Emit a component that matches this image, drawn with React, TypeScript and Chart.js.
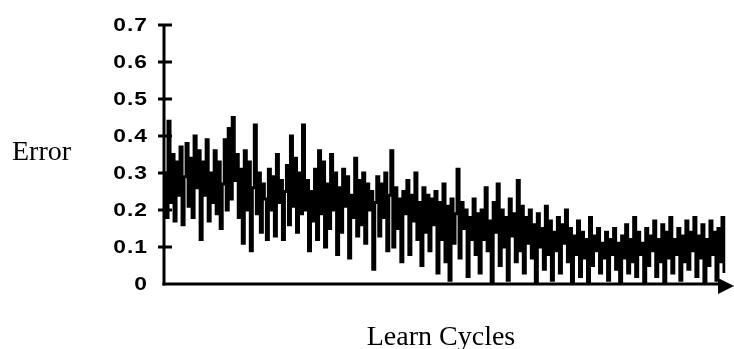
import React, { useEffect, useRef } from "react";
import { Chart, registerables } from "chart.js";

Chart.register(...registerables);

const yTicks: number[] = [0, 0.1, 0.2, 0.3, 0.4, 0.5, 0.6, 0.7];
const yTickLabels: string[] = ["0", "0.1", "0.2", "0.3", "0.4", "0.5", "0.6", "0.7"];
const yTitle = "Error";
const xTitle = "Learn Cycles";

const errorValues: number[] = [
  0.3, 0.18, 0.44, 0.22, 0.35, 0.17, 0.33, 0.24, 0.37, 0.16, 0.29, 0.38, 0.21, 0.34, 0.18, 0.4, 0.26, 0.36, 0.12, 0.33,
  0.24, 0.39, 0.17, 0.3, 0.22, 0.36, 0.19, 0.33, 0.15, 0.27, 0.39, 0.2, 0.42, 0.23, 0.45, 0.28, 0.35, 0.18, 0.31, 0.11,
  0.36, 0.2, 0.33, 0.09, 0.26, 0.43, 0.19, 0.3, 0.14, 0.27, 0.23, 0.12, 0.31, 0.2, 0.29, 0.13, 0.35, 0.22, 0.28, 0.12,
  0.25, 0.32, 0.16, 0.4, 0.21, 0.34, 0.14, 0.3, 0.19, 0.43, 0.2, 0.28, 0.09, 0.25, 0.17, 0.31, 0.12, 0.36, 0.19, 0.33,
  0.1, 0.27, 0.15, 0.35, 0.2, 0.3, 0.08, 0.26, 0.14, 0.31, 0.21, 0.29, 0.07, 0.24, 0.18, 0.34, 0.13, 0.28, 0.16, 0.3,
  0.11, 0.27, 0.2, 0.25, 0.04, 0.22, 0.29, 0.13, 0.27, 0.18, 0.3, 0.09, 0.24, 0.36, 0.1, 0.26, 0.15, 0.23, 0.06, 0.25,
  0.19, 0.28, 0.08, 0.24, 0.17, 0.3, 0.12, 0.22, 0.05, 0.26, 0.14, 0.24, 0.09, 0.23, 0.16, 0.25, 0.03, 0.22, 0.12, 0.27,
  0.06, 0.21, 0.01, 0.23, 0.11, 0.19, 0.31, 0.07, 0.22, 0.15, 0.2, 0.02, 0.18, 0.12, 0.23, 0.08, 0.19, 0.03, 0.2, 0.12,
  0.26, 0.09, 0.17, 0.0, 0.22, 0.14, 0.27, 0.05, 0.2, 0.1, 0.18, 0.01, 0.23, 0.13, 0.19, 0.06, 0.28, 0.09, 0.21, 0.03,
  0.18, 0.11, 0.2, 0.07, 0.16, 0.0, 0.19, 0.1, 0.15, 0.04, 0.21, 0.08, 0.17, 0.01, 0.14, 0.09, 0.18, 0.03, 0.16, 0.11,
  0.2, 0.06, 0.15, 0.0, 0.13, 0.08, 0.17, 0.02, 0.14, 0.07, 0.12, 0.0, 0.18, 0.05, 0.13, 0.09, 0.15, 0.03, 0.11, 0.07,
  0.14, 0.01, 0.12, 0.08, 0.15, 0.04, 0.11, 0.0, 0.13, 0.07, 0.16, 0.03, 0.12, 0.06, 0.18, 0.02, 0.14, 0.08, 0.11, 0.0,
  0.15, 0.05, 0.13, 0.09, 0.17, 0.02, 0.12, 0.06, 0.16, 0.0, 0.14, 0.07, 0.18, 0.03, 0.12, 0.08, 0.15, 0.01, 0.13, 0.06,
  0.17, 0.04, 0.14, 0.09, 0.18, 0.02, 0.13, 0.07, 0.16, 0.0, 0.12, 0.05, 0.17, 0.08, 0.14, 0.01, 0.15, 0.06, 0.18, 0.03,
];

const cycles: number[] = errorValues.map((_, i) => i + 1);

function drawSpaced(ctx: CanvasRenderingContext2D, text: string, right: number, y: number, gap: number, sx: number) {
  const chars = text.split("");
  const widths = chars.map((c) => ctx.measureText(c).width * sx);
  const total = widths.reduce((a, b) => a + b, 0) + gap * (chars.length - 1);
  let x = right - total;
  chars.forEach((c, i) => {
    ctx.save();
    ctx.translate(x, y);
    ctx.scale(sx, 1);
    ctx.fillText(c, 0, 0);
    ctx.restore();
    x += widths[i] + gap;
  });
}

const axesPlugin = {
  id: "customAxes",
  afterDraw(chart: any) {
    const ctx: CanvasRenderingContext2D = chart.ctx;
    const y = chart.scales.y;
    const area = chart.chartArea;
    const x0 = area.left;
    const yBottom = y.getPixelForValue(0);
    const yTop = y.getPixelForValue(0.7);
    ctx.save();
    ctx.strokeStyle = "#000";
    ctx.fillStyle = "#000";
    ctx.lineWidth = 3;
    ctx.beginPath();
    ctx.moveTo(x0, yBottom + 1.5);
    ctx.lineTo(x0, yTop);
    ctx.stroke();
    ctx.beginPath();
    ctx.moveTo(x0 - 1.5, yBottom);
    ctx.lineTo(719, yBottom);
    ctx.stroke();
    ctx.beginPath();
    ctx.moveTo(718, yBottom - 6);
    ctx.lineTo(734, yBottom + 2);
    ctx.lineTo(718, yBottom + 10);
    ctx.closePath();
    ctx.fill();
    ctx.font = "bold 19px 'Liberation Sans'";
    ctx.textAlign = "left";
    ctx.textBaseline = "middle";
    yTicks.forEach((v, i) => {
      const py = y.getPixelForValue(v);
      if (v > 0) {
        ctx.beginPath();
        ctx.moveTo(x0 - 6, py);
        ctx.lineTo(x0 + 8, py);
        ctx.stroke();
      }
      drawSpaced(ctx, yTickLabels[i], 147, py + 1, 1, 1.2);
    });
    ctx.font = "28px 'Liberation Serif'";
    ctx.textAlign = "left";
    ctx.textBaseline = "alphabetic";
    ctx.fillText(yTitle, 12, 160);
    ctx.textAlign = "center";
    ctx.fillText(xTitle, 441, 345);
    ctx.restore();
  },
};

export default function App() {
  const ref = useRef<HTMLCanvasElement | null>(null);
  useEffect(() => {
    if (!ref.current) return;
    const chart = new Chart(ref.current, {
      type: "line",
      data: {
        labels: cycles,
        datasets: [
          {
            data: errorValues,
            borderColor: "#000",
            borderWidth: 3,
            stepped: true,
            pointRadius: 0,
            fill: false,
          },
        ],
      },
      options: {
        animation: false,
        responsive: false,
        maintainAspectRatio: false,
        events: [],
        layout: { padding: { left: 164, right: 10, top: 25, bottom: 65 } },
        plugins: { legend: { display: false }, tooltip: { enabled: false }, title: { display: false } },
        scales: {
          x: { display: false, offset: false },
          y: { display: false, min: 0, max: 0.7 },
        },
      },
      plugins: [axesPlugin],
    });
    return () => chart.destroy();
  }, []);
  return (
    <div style={{ position: "fixed", left: 0, top: 0, width: 734, height: 349, background: "#fff" }}>
      <canvas ref={ref} width={734} height={349} style={{ width: 734, height: 349 }} />
    </div>
  );
}
